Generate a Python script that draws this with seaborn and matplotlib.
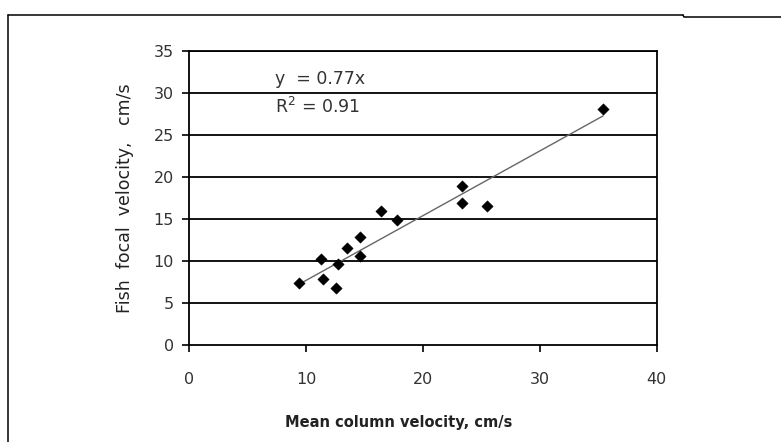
import matplotlib
matplotlib.use("Agg")
import matplotlib.pyplot as plt
from matplotlib.lines import Line2D
import seaborn as sns
import pandas as pd
import numpy as np

# Mean column velocity (cm/s) and fish focal velocity (cm/s) per observation
mean_column_velocity = [9.4, 11.3, 11.5, 12.6, 12.7, 13.5, 14.6, 14.6,
                        16.4, 17.75, 23.3, 23.3, 25.5, 35.4]
fish_focal_velocity = [7.4, 10.2, 7.9, 6.75, 9.6, 11.6, 12.9, 10.6,
                       15.9, 14.9, 18.9, 16.9, 16.6, 28.1]

# Regression through the origin
slope = 0.77
r_squared = 0.91

x_ticks = [0, 10, 20, 30, 40]
y_ticks = [0, 5, 10, 15, 20, 25, 30, 35]

df = pd.DataFrame({"x": mean_column_velocity, "y": fish_focal_velocity})

sns.set_theme(style="white")
plt.rcParams["font.family"] = ["DejaVu Sans"]

fig = plt.figure(figsize=(7.81, 4.42), dpi=100)
ax = fig.add_axes([0.242, 0.219, 0.599, 0.666])

# horizontal grid
for yv in y_ticks[1:]:
    ax.axhline(yv, color="black", lw=1.3, zorder=1)

# trend line
x_fit = np.array([min(mean_column_velocity), max(mean_column_velocity)])
trend = pd.DataFrame({"x": x_fit, "y": slope * x_fit})
sns.lineplot(data=trend, x="x", y="y", ax=ax, color="#666666", lw=1.0, zorder=2)

sns.scatterplot(data=df, x="x", y="y", ax=ax, marker="D", s=34,
                color="black", edgecolor="black", linewidth=0.3, zorder=3)

ax.set_xlim(0, 40)
ax.set_ylim(0, 35)
ax.set_xticks(x_ticks)
ax.set_yticks(y_ticks)
ax.tick_params(axis="both", direction="out", length=5, width=1.2,
               color="black", labelsize=11.5, labelcolor="#333333",
               bottom=True, left=True)
ax.tick_params(axis="y", pad=6)
ax.tick_params(axis="x", pad=14)
for sp in ax.spines.values():
    sp.set_color("black")
    sp.set_linewidth(1.3)

ax.set_xlabel("Mean column velocity, cm/s", fontsize=10.5, fontweight="bold",
              color="#222222")
ax.set_ylabel("Fish  focal  velocity,   cm/s", fontsize=12.5, color="#222222")
ax.xaxis.set_label_coords(0.449, -0.238)
ax.yaxis.set_label_coords(-0.118, 0.5)

ax.text(7.35, 31.6, f"y  = {slope}x", fontsize=12.5, color="#333333",
        va="center", ha="left")
ax.text(7.35, 28.3, f"R$^2$ = {r_squared}", fontsize=12.5, color="#333333",
        va="center", ha="left")

# outer chart frame
H = 442.0
W = 781.0
fig.add_artist(Line2D([8 / W, 8 / W], [0, 1 - 15 / H], color="black", lw=1.1))
fig.add_artist(Line2D([8 / W, 683 / W], [1 - 15 / H, 1 - 15 / H], color="black", lw=1.1))
fig.add_artist(Line2D([683 / W, 684 / W, W / W], [1 - 15 / H, 1 - 17 / H, 1 - 17 / H],
                      color="black", lw=1.1))

fig.savefig("out.png", dpi=100, facecolor="white")
